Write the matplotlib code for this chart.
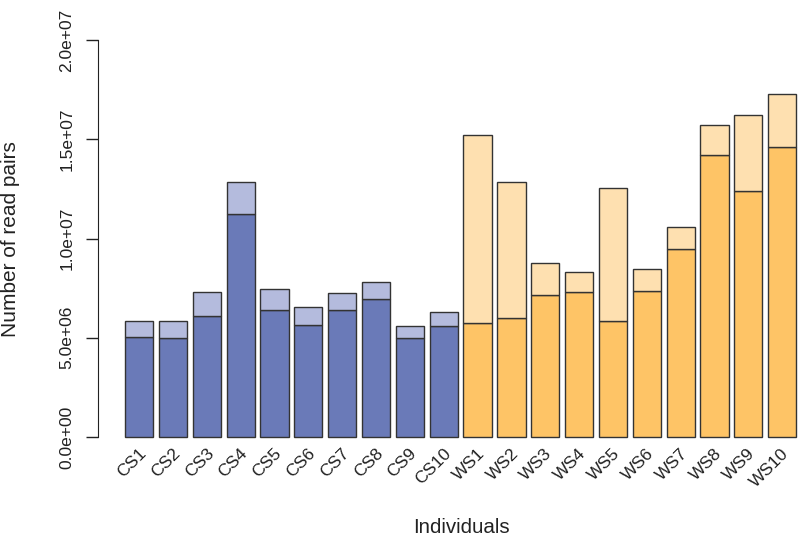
import matplotlib
matplotlib.use("Agg")
import matplotlib.pyplot as plt
import numpy as np

plt.rcParams['font.family'] = ['Liberation Sans', 'DejaVu Sans']

# read pairs per individual (lower = dark segment, total = full bar height)
names = ["CS1", "CS2", "CS3", "CS4", "CS5", "CS6", "CS7", "CS8", "CS9", "CS10",
         "WS1", "WS2", "WS3", "WS4", "WS5", "WS6", "WS7", "WS8", "WS9", "WS10"]
cs_lower = [5.05e6, 4.97e6, 6.11e6, 11.22e6, 6.40e6, 5.66e6, 6.40e6, 6.95e6, 4.97e6, 5.59e6]
cs_total = [5.86e6, 5.84e6, 7.29e6, 12.85e6, 7.46e6, 6.53e6, 7.27e6, 7.83e6, 5.61e6, 6.28e6]
ws_lower = [5.73e6, 5.98e6, 7.15e6, 7.32e6, 5.86e6, 7.35e6, 9.47e6, 14.21e6, 12.41e6, 14.61e6]
ws_total = [15.21e6, 12.86e6, 8.78e6, 8.30e6, 12.53e6, 8.45e6, 10.58e6, 15.73e6, 16.24e6, 17.30e6]

lower = np.array(cs_lower + ws_lower)
total = np.array(cs_total + ws_total)
dark = ["#6a7ab8"] * 10 + ["#fec466"] * 10
light = ["#b4bbdd"] * 10 + ["#fee0b0"] * 10

fig = plt.figure(figsize=(8, 5.36), dpi=100)
# axes placed like the R plot region (right side runs past the figure edge)
ax = fig.add_axes([98 / 800, 0.155, 731 / 800, 0.80])

x = 0.7 + 1.2 * np.arange(len(names))
ax.bar(x, lower, width=1, color=dark, edgecolor="#333333", linewidth=1.0)
ax.bar(x, total - lower, bottom=lower, width=1, color=light,
       edgecolor="#333333", linewidth=1.0)

ax.set_xlim(-0.76, 25.16)
ax.set_ylim(-0.08e7, 2.08e7)

for s in ["top", "right", "bottom"]:
    ax.spines[s].set_visible(False)
ax.spines["left"].set_bounds(0, 2e7)
ax.spines["left"].set_color("#222222")

yt = [0, 5e6, 1e7, 1.5e7, 2e7]
ax.set_yticks(yt)
ax.set_yticklabels(["0.0e+00", "5.0e+06", "1.0e+07", "1.5e+07", "2.0e+07"],
                   rotation=90, va="center", fontsize=12.5, color="#222222")
ax.tick_params(axis="y", length=8.6, width=1.0, pad=8.5, color="#222222")
ax.set_xticks([])

for xi, nm in zip(x, names):
    ax.text(xi - 0.03, -0.45e6, nm, rotation=45, rotation_mode="anchor",
            ha="right", va="top", fontsize=12.5, color="#222222", clip_on=False)

fig.text(461 / 800, 3 / 536, "Individuals", ha="center", va="baseline",
         fontsize=14.8, color="#222222")
fig.text(11 / 800, 1 - 239 / 536, "Number of read pairs", rotation=90,
         ha="center", va="center", fontsize=15, color="#222222")

fig.savefig("out.png", dpi=100)
